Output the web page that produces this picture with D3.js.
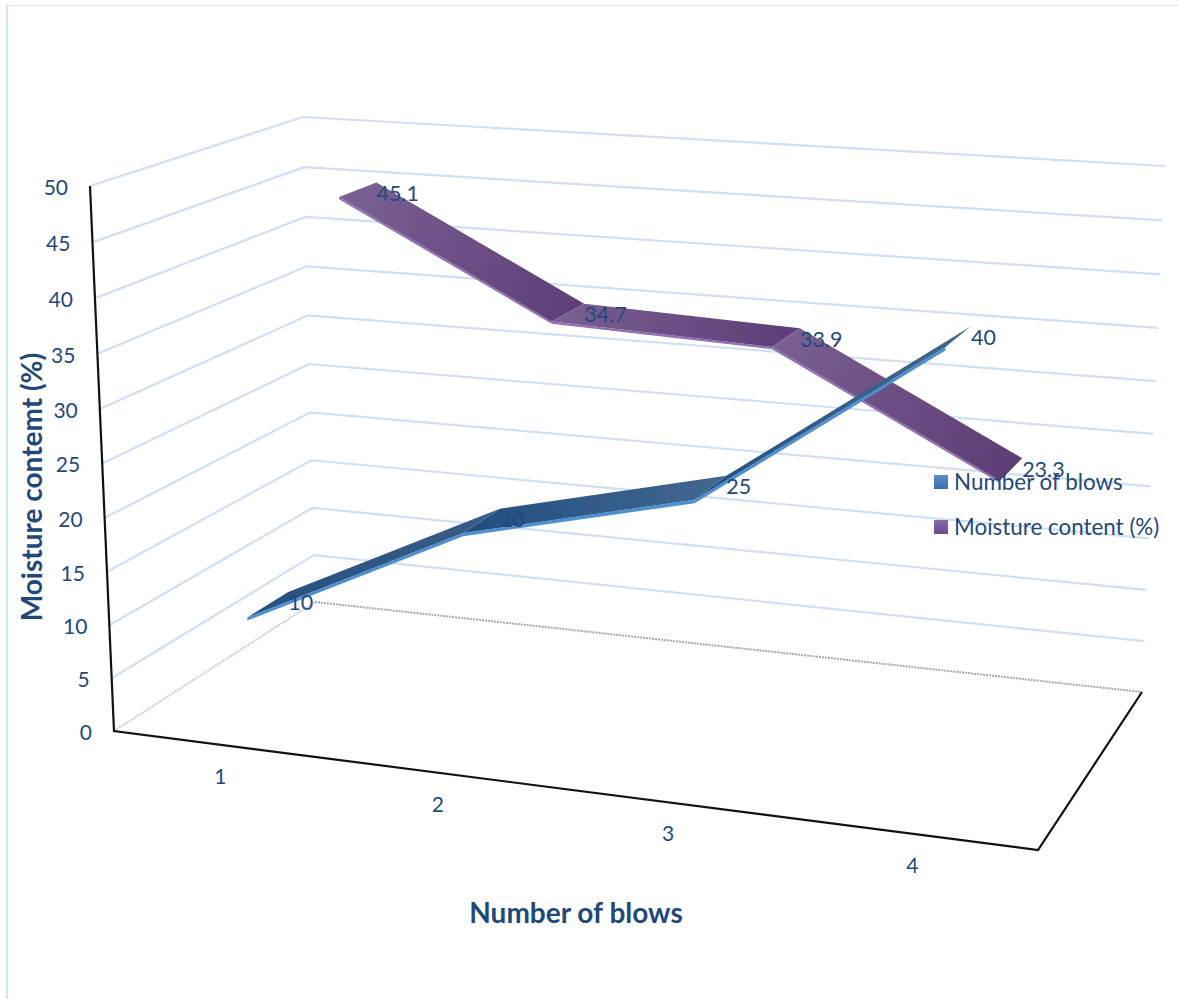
<!DOCTYPE html>
<html>
<head>
<meta charset="utf-8">
<script src="https://cdn.jsdelivr.net/npm/d3@7"></script>
<style>
html,body{margin:0;padding:0;background:#fff;}
svg{display:block;}
text{font-family:Lato,"Open Sans",sans-serif;fill:#1f497d;}
</style>
</head>
<body>
<svg id="chart" width="1178" height="999"></svg>
<script>
// Chart data
const categories = [1, 2, 3, 4];
const blows = [10, 20, 25, 40];
const moisture = [45.1, 34.7, 33.9, 23.3];
const valueTicks = d3.range(0, 51, 5);
const blowsName = "Number of blows";
const moistureName = "Moisture content (%)";

// Appearance of each ribbon; the far series is drawn first
const ribbons = [
  {name: moistureName, values: moisture, depth: 0.75, edge: "#8f6fb4", thickness: 0.22,
   shades: [["#7b6294", "#5d3e77"], ["#7a6192", "#5c3d75"], ["#7a6192", "#5c3d75"]],
   swatch: ["#8a6bab", "#6a4a8c"]},
  {name: blowsName, values: blows, depth: 0.25, edge: "#4b90d6", thickness: 0.3,
   shades: [["#24507f", "#3a5d88"], ["#1f4d80", "#44688f"], ["#24507f", "#44688c"]],
   swatch: ["#5b8ec8", "#3a6fae"]}
];

// Corners of the 3D box on screen: front-left, front-right, back-right, back-left
const floorCorners = [[114, 731], [1038, 850], [1142, 692], [315, 602]];
const topCorners = [[90, 186], [1062, 250], [1165, 166], [303, 117]];

// Homography taking the unit square onto a screen quadrilateral
function quadMap(q) {
  const [[x0, y0], [x1, y1], [x2, y2], [x3, y3]] = q;
  const dx1 = x1 - x2, dx2 = x3 - x2, sx = x0 - x1 + x2 - x3;
  const dy1 = y1 - y2, dy2 = y3 - y2, sy = y0 - y1 + y2 - y3;
  const det = dx1 * dy2 - dx2 * dy1;
  const g = (sx * dy2 - dx2 * sy) / det;
  const h = (dx1 * sy - sx * dy1) / det;
  const a = x1 - x0 + g * x1, b = x3 - x0 + h * x3;
  const d = y1 - y0 + g * y1, e = y3 - y0 + h * y3;
  return (u, w) => {
    const k = g * u + h * w + 1;
    return [(a * u + b * w + x0) / k, (d * u + e * w + y0) / k];
  };
}
const floorMap = quadMap(floorCorners);
const topMap = quadMap(topCorners);

const catScale = d3.scaleBand().domain(categories).range([0, 1]);
const valueScale = d3.scaleLinear().domain([0, 50]).range([0, 1]);
// Slight foreshortening of the vertical axis toward the floor
const verticalPerspective = 0.038;

// Project (position along category axis, value, depth) to the screen
function project(u, value, w) {
  const f = floorMap(u, w), t = topMap(u, w), n = valueScale(value);
  const v = n / (1 + verticalPerspective * (1 - n));
  return [f[0] + (t[0] - f[0]) * v, f[1] + (t[1] - f[1]) * v];
}
const catU = c => catScale(c) + catScale.bandwidth() / 2;

const svg = d3.select("#chart");
const defs = svg.append("defs");
const line = d3.line();
const poly = pts => line(pts) + "Z";

// Outer chart frame
svg.append("path").attr("d", "M7,1000V5.5")
  .attr("fill", "none").attr("stroke", "#d5e3f4").attr("stroke-width", 2);
svg.append("path").attr("d", "M6,5.5H1178")
  .attr("fill", "none").attr("stroke", "#d5e3f4").attr("stroke-width", 1.2);

// Gridlines across the side wall and the back wall
const grid = svg.append("g").attr("fill", "none").attr("stroke", "#d0dff3").attr("stroke-width", 2.2);
valueTicks.filter(v => v > 0).forEach(v => {
  grid.append("path").attr("d", line([project(0, v, 0), project(0, v, 1), project(1, v, 1)]));
});

// Floor outline
svg.append("path").attr("d", line([project(0, 0, 0), project(0, 0, 1)]))
  .attr("fill", "none").attr("stroke", "#c8ced6").attr("stroke-width", 2).attr("stroke-dasharray", "2 1");
svg.append("path").attr("d", line([project(0, 0, 1), project(1, 0, 1)]))
  .attr("fill", "none").attr("stroke", "#a5a9b0").attr("stroke-width", 2).attr("stroke-dasharray", "2 1");
svg.append("path").attr("d", line([project(0, 50, 0), project(0, 0, 0), project(1, 0, 0), project(1, 0, 1)]))
  .attr("fill", "none").attr("stroke", "#111").attr("stroke-width", 2.2);

// Ribbons
const halfDepth = 0.1;
ribbons.forEach((s, si) => {
  const g = svg.append("g");
  const at = (i, w) => project(catU(categories[i]), s.values[i], w);
  const below = (i, w) => project(catU(categories[i]), s.values[i] - s.thickness, w);
  d3.range(s.values.length - 1).forEach(i => {
    const wf = s.depth - halfDepth, wb = s.depth + halfDepth;
    const id = `ribbon-${si}-${i}`;
    const a = at(i, wf), b = at(i + 1, wb);
    const grad = defs.append("linearGradient").attr("id", id)
      .attr("gradientUnits", "userSpaceOnUse")
      .attr("x1", a[0]).attr("y1", a[1]).attr("x2", b[0]).attr("y2", b[1]);
    grad.append("stop").attr("offset", 0).attr("stop-color", s.shades[i][0]);
    grad.append("stop").attr("offset", 0.22).attr("stop-color", d3.interpolateRgb(s.shades[i][0], s.shades[i][1])(0.25));
    grad.append("stop").attr("offset", 1).attr("stop-color", s.shades[i][1]);
    g.append("path")
      .attr("d", poly([at(i, wf), at(i + 1, wf), below(i + 1, wf), below(i, wf)]))
      .attr("fill", s.edge);
    g.append("path")
      .attr("d", poly([at(i, wf), at(i + 1, wf), at(i + 1, wb), at(i, wb)]))
      .attr("fill", `url(#${id})`);
  });
});

// Value axis labels beside the corner edge
valueTicks.forEach(v => {
  const p = project(0, v, 0);
  svg.append("text").attr("x", p[0] - 22).attr("y", p[1] + 3.5)
    .attr("text-anchor", "end").attr("dominant-baseline", "middle")
    .attr("font-size", 21).text(v);
});

// Category labels below the front edge
categories.forEach(c => {
  const p = project(catU(c), 0, 0);
  svg.append("text").attr("x", p[0] + 2).attr("y", p[1] + 34)
    .attr("text-anchor", "middle").attr("dominant-baseline", "middle")
    .attr("font-size", 21).text(c);
});

// Value labels next to each ribbon's far corner
ribbons.forEach(s => {
  s.values.forEach((val, i) => {
    const p = project(catU(categories[i]), val, s.depth + halfDepth);
    svg.append("text").attr("x", p[0]).attr("y", p[1] + 13)
      .attr("dominant-baseline", "middle").attr("font-size", 21.5).text(val);
  });
});

// Legend
const legendOrder = [ribbons[1], ribbons[0]];
const legendY = d3.scalePoint().domain(legendOrder.map(d => d.name)).range([482, 527]);
legendOrder.forEach((s, i) => {
  const id = `swatch-${i}`;
  const grad = defs.append("linearGradient").attr("id", id).attr("x1", 0).attr("y1", 0).attr("x2", 0).attr("y2", 1);
  grad.append("stop").attr("offset", 0).attr("stop-color", s.swatch[0]);
  grad.append("stop").attr("offset", 1).attr("stop-color", s.swatch[1]);
  svg.append("rect").attr("x", 934).attr("y", legendY(s.name) - 7).attr("width", 14).attr("height", 14)
    .attr("fill", `url(#${id})`);
  svg.append("text").attr("x", 954).attr("y", legendY(s.name) + 2.5)
    .attr("dominant-baseline", "middle").attr("font-size", 22.4).text(s.name);
});

// Axis titles
svg.append("text").attr("transform", "translate(35,487) rotate(-90)")
  .attr("text-anchor", "middle").attr("dominant-baseline", "middle")
  .attr("font-size", 28).attr("font-weight", 700).text("Moisture contemt (%)");
svg.append("text").attr("x", 576).attr("y", 916)
  .attr("text-anchor", "middle").attr("dominant-baseline", "middle")
  .attr("font-size", 28).attr("font-weight", 700).text(blowsName);
</script>
</body>
</html>
